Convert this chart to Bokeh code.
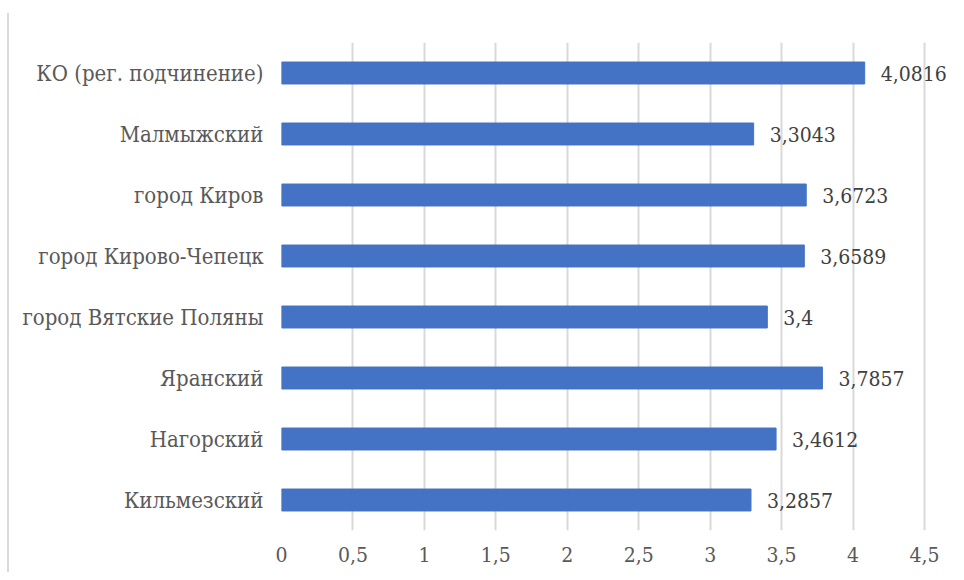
from bokeh.plotting import figure
from bokeh.models import ColumnDataSource, FixedTicker, FactorRange, Range1d, LabelSet, Div
from bokeh.layouts import row
from bokeh.embed import file_html
from bokeh.resources import INLINE
from bokeh.core.properties import value

categories = ["КО (рег. подчинение)", "Малмыжский", "город Киров", "город Кирово-Чепецк",
              "город Вятские Поляны", "Яранский", "Нагорский", "Кильмезский"]
values = [4.0816, 3.3043, 3.6723, 3.6589, 3.4, 3.7857, 3.4612, 3.2857]
value_labels = ["4,0816", "3,3043", "3,6723", "3,6589", "3,4", "3,7857", "3,4612", "3,2857"]
x_ticks = [0, 0.5, 1, 1.5, 2, 2.5, 3, 3.5, 4, 4.5]
x_tick_labels = ["0", "0,5", "1", "1,5", "2", "2,5", "3", "3,5", "4", "4,5"]

FONT = "DejaVu Serif Condensed"

src = ColumnDataSource(dict(cat=categories, val=values, lab=value_labels))

p = figure(width=947, height=572, output_backend="svg", toolbar_location=None,
           y_range=FactorRange(*list(reversed(categories))),
           x_range=Range1d(0, 4.682),
           min_border_left=272, min_border_right=6, min_border_top=42, min_border_bottom=42)
p.outline_line_color = None
p.hbar(y="cat", right="val", left=0, height=0.36, source=src, color="#4472C4")

labels = LabelSet(x="val", y="cat", text="lab", source=src, x_offset=16,
                  text_align="left", text_baseline="middle",
                  text_font=value(FONT), text_font_size="21px", text_color="#404040")
p.add_layout(labels)

p.xaxis.ticker = FixedTicker(ticks=x_ticks)
p.xaxis.major_label_overrides = {t: l for t, l in zip(x_ticks, x_tick_labels)}
for ax in (p.xaxis, p.yaxis):
    ax.axis_line_color = None
    ax.major_tick_line_color = None
    ax.minor_tick_line_color = None
    ax.major_tick_out = 0
    ax.major_tick_in = 0
    ax.major_label_text_font = FONT
    ax.major_label_text_color = "#595959"
p.yaxis.major_label_text_font_size = "22px"
p.xaxis.major_label_text_font_size = "21px"
p.xaxis.major_label_standoff = 16
p.yaxis.major_label_standoff = 18
p.xgrid.grid_line_color = "#d9d9d9"
p.xgrid.grid_line_width = 2
p.ygrid.grid_line_color = None

gap = Div(text="", width=7, height=10, margin=0)
edge = Div(text="", width=2, height=559, margin=(13, 0, 0, 0),
           styles={"background-color": "#d9d9d9"})
layout = row(gap, edge, p, spacing=0)

open("out.html", "w").write(file_html(layout, INLINE))
